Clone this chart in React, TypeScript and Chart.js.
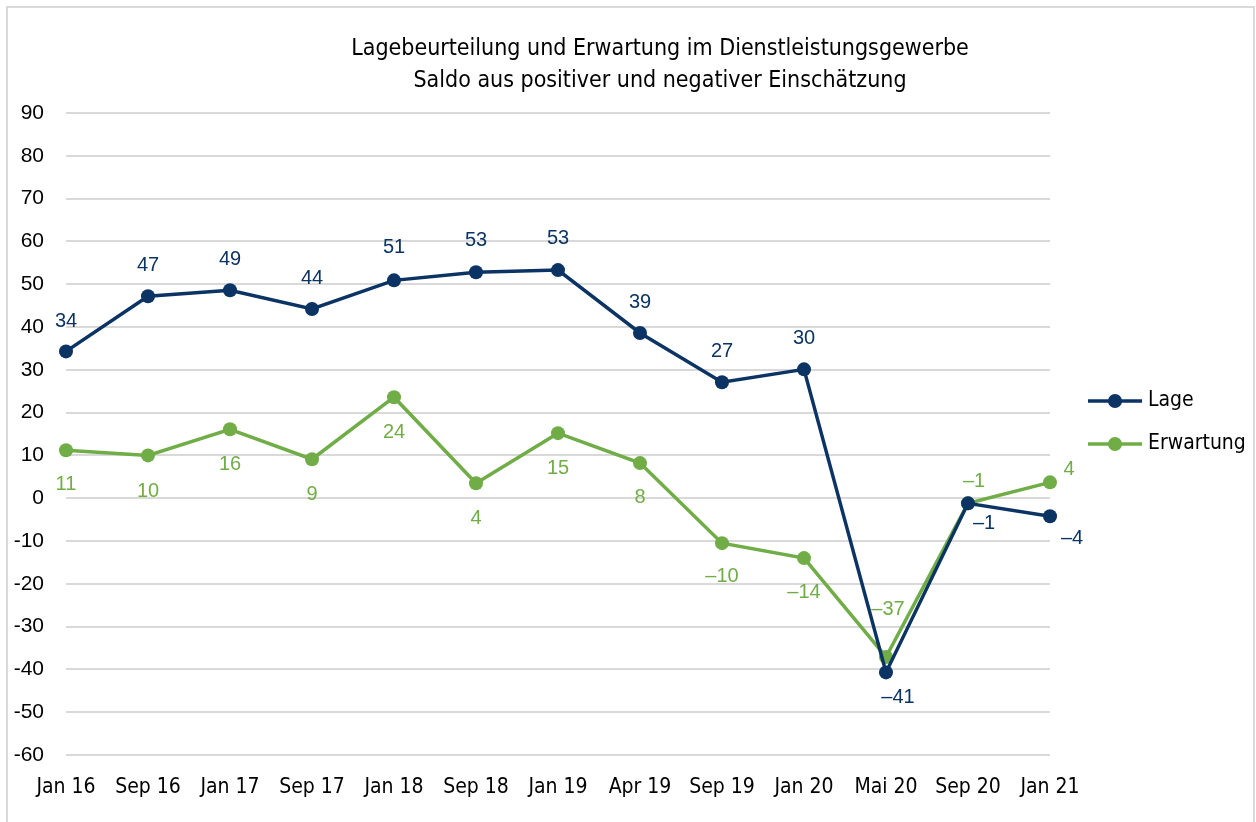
import React, { useEffect, useRef } from "react";
import { Chart, registerables } from "chart.js";

Chart.register(...registerables);

const categories = ["Jan 16", "Sep 16", "Jan 17", "Sep 17", "Jan 18", "Sep 18", "Jan 19", "Apr 19", "Sep 19", "Jan 20", "Mai 20", "Sep 20", "Jan 21"];
const lage = [34.3, 47.2, 48.6, 44.2, 50.9, 52.8, 53.3, 38.6, 27.1, 30.1, -40.7, -1.2, -4.2];
const erwartung = [11.2, 10.0, 16.1, 9.1, 23.6, 3.5, 15.2, 8.2, -10.5, -14.0, -37.1, -1.2, 3.7];
const yMin = -60;
const yMax = 90;
const yStep = 10;
const titleLines = ["Lagebeurteilung und Erwartung im Dienstleistungsgewerbe", "Saldo aus positiver und negativer Einschätzung"];
const seriesNames = ["Lage", "Erwartung"];

// label placement (dx, dy) relative to each point
const lagePlacement = [[0, -30], [0, -31], [0, -31], [0, -31], [0, -33], [0, -32], [0, -32], [0, -31], [0, -31], [0, -31], [12, 25], [16, 20], [22, 22]];
const erwPlacement = [[0, 34], [0, 36], [0, 35], [0, 35], [0, 35], [0, 35], [0, 35], [0, 34], [0, 33], [0, 34], [2, -48], [6, -22], [19, -13]];

const NAVY = "#0b3364";
const GREEN = "#70ad47";
const COND = "'DejaVu Sans Condensed', 'Liberation Sans Narrow', sans-serif";

const fmt = (v: number) => {
  const r = Math.round(v);
  return r < 0 ? "\u2013" + Math.abs(r) : String(r);
};

const decorPlugin = {
  id: "decor",
  beforeDraw(chart: any) {
    const ctx = chart.ctx;
    ctx.save();
    ctx.fillStyle = "#ffffff";
    ctx.fillRect(0, 0, chart.width, chart.height);
    ctx.strokeStyle = "#d9d9d9";
    ctx.lineWidth = 2;
    ctx.strokeRect(7, 7, chart.width - 9, chart.height + 20);
    ctx.restore();
  },
  afterDraw(chart: any) {
    const ctx = chart.ctx;
    ctx.save();
    // title
    ctx.fillStyle = "#000000";
    ctx.font = `23px ${COND}`;
    ctx.textAlign = "center";
    ctx.textBaseline = "middle";
    ctx.fillText(titleLines[0], 660, 49);
    ctx.fillText(titleLines[1], 660, 81);
    // legend
    const colors = [NAVY, GREEN];
    const ys = [401, 444];
    for (let i = 0; i < 2; i++) {
      ctx.strokeStyle = colors[i];
      ctx.lineWidth = 3.5;
      ctx.beginPath();
      ctx.moveTo(1088, ys[i]);
      ctx.lineTo(1142, ys[i]);
      ctx.stroke();
      ctx.fillStyle = colors[i];
      ctx.beginPath();
      ctx.arc(1115, ys[i], 7, 0, Math.PI * 2);
      ctx.fill();
      ctx.fillStyle = "#000000";
      ctx.font = `21px ${COND}`;
      ctx.textAlign = "left";
      ctx.fillText(seriesNames[i], 1148, ys[i]);
    }
    ctx.restore();
  },
  afterDatasetsDraw(chart: any) {
    const ctx = chart.ctx;
    ctx.save();
    ctx.font = "20px 'Liberation Sans', Arial, sans-serif";
    ctx.textAlign = "center";
    ctx.textBaseline = "middle";
    const placements = [lagePlacement, erwPlacement];
    chart.data.datasets.forEach((ds: any, di: number) => {
      const meta = chart.getDatasetMeta(di);
      ctx.fillStyle = ds.borderColor;
      meta.data.forEach((pt: any, i: number) => {
        const [dx, dy] = placements[di][i];
        ctx.fillText(fmt(ds.data[i]), pt.x + dx, pt.y + dy);
      });
    });
    ctx.restore();
  },
};

export default function App() {
  const ref = useRef<HTMLCanvasElement | null>(null);
  useEffect(() => {
    document.body.style.margin = "0";
    const canvas = ref.current!;
    const chart = new Chart(canvas, {
      type: "line",
      data: {
        labels: categories,
        datasets: [
          {
            label: seriesNames[0],
            data: lage,
            borderColor: NAVY,
            backgroundColor: NAVY,
            borderWidth: 3.5,
            pointRadius: 7,
            pointHoverRadius: 7,
            pointBackgroundColor: NAVY,
            pointBorderWidth: 0,
            tension: 0,
          },
          {
            label: seriesNames[1],
            data: erwartung,
            borderColor: GREEN,
            backgroundColor: GREEN,
            borderWidth: 3.5,
            pointRadius: 7,
            pointHoverRadius: 7,
            pointBackgroundColor: GREEN,
            pointBorderWidth: 0,
            tension: 0,
          },
        ],
      },
      options: {
        responsive: false,
        animation: false,
        layout: { padding: { top: 113, right: 206, bottom: 0, left: 0 } },
        plugins: {
          legend: { display: false },
          title: { display: false },
          tooltip: { enabled: false },
        },
        scales: {
          x: {
            type: "category",
            offset: false,
            grid: { display: false, drawTicks: false },
            border: { display: false },
            ticks: {
              color: "#000000",
              font: { family: COND, size: 21 },
              padding: 20,
              maxRotation: 0,
              autoSkip: false,
            },
            afterFit: (s: any) => {
              s.height = 67;
            },
          },
          y: {
            min: yMin,
            max: yMax,
            grid: { color: "#d9d9d9", lineWidth: 2, drawTicks: false },
            border: { display: false },
            ticks: {
              stepSize: yStep,
              color: "#000000",
              font: { family: "'Liberation Sans', Arial, sans-serif", size: 21 },
              padding: 22,
            },
            afterFit: (s: any) => {
              s.width = 66;
            },
          },
        },
      },
      plugins: [decorPlugin],
    });
    return () => chart.destroy();
  }, []);
  return (
    <div style={{ width: 1256, height: 822 }}>
      <canvas ref={ref} width={1256} height={822} style={{ display: "block" }} />
    </div>
  );
}
